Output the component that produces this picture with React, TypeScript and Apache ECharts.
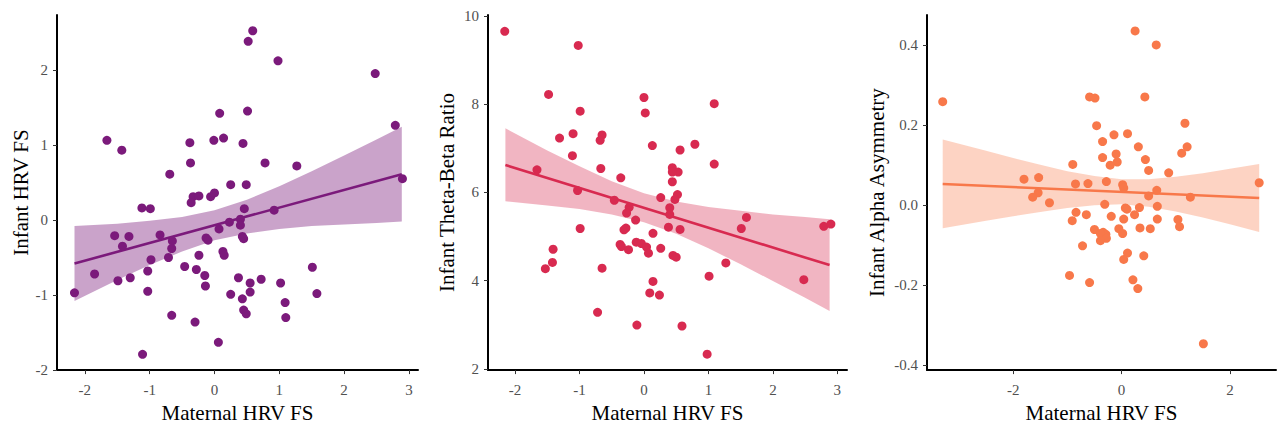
import React, { useEffect, useRef } from "react";
import * as echarts from "echarts";

// ---------- Panel 1: Infant HRV FS ----------
const hrvX = [0.59, 0.52, 0.98, 2.48, 0.08, 0.51, 2.79, -1.66, -1.43, -0.38, -0.01, 0.14, 0.44, -0.37, 0.78, 1.27, -0.69, 0.25, 0.49, 2.9, -0.33, -0.24, -0.06, 0.0, -0.36, -1.12, -0.99, 0.46, 0.92, 0.07, 0.23, 0.4, 0.4, 0.43, 0.45, -1.54, -1.32, -1.42, -0.84, -0.65, -0.66, -0.13, -0.1, 0.13, 0.15, -0.24, -0.71, -0.98, -1.85, -1.03, -0.46, -0.28, -0.15, -1.49, -1.3, 0.37, 0.55, 0.72, 1.02, 1.51, -0.14, -2.16, -1.03, 0.25, 0.55, 1.58, 0.43, 1.09, 0.45, 0.49, 1.1, -0.66, -0.3, 0.06, -1.11];
const hrvY = [2.52, 2.38, 2.12, 1.95, 1.42, 1.45, 1.26, 1.06, 0.93, 1.03, 1.06, 1.09, 1.02, 0.76, 0.76, 0.72, 0.61, 0.47, 0.47, 0.55, 0.31, 0.32, 0.31, 0.36, 0.23, 0.16, 0.15, 0.15, 0.13, -0.12, -0.03, 0.01, -0.07, -0.22, -0.25, -0.21, -0.22, -0.35, -0.2, -0.28, -0.38, -0.24, -0.27, -0.42, -0.47, -0.47, -0.5, -0.53, -0.72, -0.68, -0.62, -0.66, -0.74, -0.81, -0.77, -0.77, -0.84, -0.79, -0.84, -0.63, -0.88, -0.97, -0.95, -0.99, -0.96, -0.98, -1.05, -1.1, -1.2, -1.25, -1.3, -1.27, -1.36, -1.63, -1.79];
const hrvFitX = [-2.16, 2.89];
const hrvFitY = [-0.58, 0.61];
const hrvBandX = [-2.16, -1.5, -1.0, -0.5, 0, 0.5, 1.0, 1.5, 2.0, 2.5, 2.89];
const hrvBandLo = [-1.08, -0.8, -0.6, -0.42, -0.27, -0.18, -0.12, -0.08, -0.06, -0.04, -0.02];
const hrvBandHi = [-0.08, -0.05, -0.01, 0.04, 0.13, 0.27, 0.45, 0.65, 0.86, 1.07, 1.24];

// ---------- Panel 2: Infant Theta-Beta Ratio ----------
const tbrX = [-2.16, -1.02, -1.48, 0.0, 1.09, -0.99, 0.02, -1.31, -1.1, -0.65, -0.68, 0.13, 0.79, 0.56, -1.11, 1.09, -1.66, -0.67, 0.44, 0.53, 0.44, 0.44, -0.36, -1.03, -0.46, 0.26, 0.52, 0.48, -0.23, -0.27, 0.4, 0.4, -0.13, -0.31, -0.28, -0.99, 0.38, 0.56, 0.14, 1.51, 1.59, 2.79, 2.9, -1.41, -0.37, -0.35, -0.24, -0.12, -0.04, 0.04, 0.07, 0.26, 0.45, 0.5, -1.42, -1.53, -0.65, 1.27, 1.01, 2.48, 0.14, 0.09, 0.24, -0.72, -0.11, 0.59, 0.98];
const tbrY = [9.65, 9.33, 8.22, 8.15, 8.01, 7.84, 7.8, 7.23, 7.33, 7.3, 7.18, 7.06, 7.09, 6.96, 6.83, 6.64, 6.51, 6.54, 6.56, 6.46, 6.46, 6.24, 6.33, 6.04, 5.82, 5.88, 5.95, 5.84, 5.66, 5.53, 5.65, 5.5, 5.37, 5.15, 5.19, 5.18, 5.21, 5.16, 5.07, 5.18, 5.43, 5.23, 5.28, 4.71, 4.82, 4.77, 4.7, 4.87, 4.84, 4.76, 4.62, 4.73, 4.57, 4.53, 4.41, 4.27, 4.28, 4.4, 4.1, 4.02, 3.98, 3.72, 3.67, 3.28, 2.99, 2.97, 2.33];
const tbrFitX = [-2.15, 2.88];
const tbrFitY = [6.62, 4.35];
const tbrBandX = [-2.15, -1.5, -1.0, -0.5, 0, 0.5, 1.0, 1.5, 2.0, 2.5, 2.88];
const tbrBandLo = [5.8, 5.7, 5.62, 5.5, 5.32, 5.06, 4.73, 4.37, 3.99, 3.61, 3.31];
const tbrBandHi = [7.45, 6.95, 6.59, 6.25, 5.98, 5.79, 5.67, 5.58, 5.5, 5.44, 5.39];

// ---------- Panel 3: Infant Alpha Asymmetry ----------
const asymX = [0.25, 0.64, -3.3, -0.59, -0.49, 0.43, -0.46, 1.17, -0.14, 0.11, -0.35, 0.31, 1.21, -0.1, 1.11, -0.35, 0.44, -0.08, -0.21, -0.9, 0.5, 0.87, -1.8, -1.53, -0.28, -0.85, -0.62, 0.02, 0.04, 2.54, -1.54, -1.64, 0.65, 0.5, 1.27, -1.33, -0.31, 0.07, 0.1, 0.33, 0.66, -0.84, -0.65, -0.19, 0.24, -0.91, 0.04, 0.66, 1.04, 1.07, 0.34, 0.53, -0.5, -0.05, 0.02, -0.34, -0.29, -0.39, -0.28, -0.39, -0.72, 0.11, 0.41, 0.04, -0.96, -0.59, 0.21, 0.3, 1.51];
const asymY = [0.436, 0.401, 0.259, 0.271, 0.268, 0.271, 0.199, 0.205, 0.176, 0.179, 0.159, 0.146, 0.146, 0.128, 0.13, 0.119, 0.114, 0.108, 0.1, 0.102, 0.087, 0.081, 0.065, 0.069, 0.059, 0.053, 0.054, 0.051, 0.043, 0.056, 0.031, 0.02, 0.037, 0.023, 0.02, 0.006, 0.002, -0.007, -0.01, -0.006, -0.003, -0.018, -0.024, -0.028, -0.024, -0.039, -0.035, -0.035, -0.036, -0.054, -0.057, -0.059, -0.061, -0.059, -0.071, -0.068, -0.073, -0.071, -0.083, -0.089, -0.102, -0.12, -0.127, -0.136, -0.176, -0.194, -0.187, -0.209, -0.347];
const asymFitX = [-3.3, 2.54];
const asymFitY = [0.053, 0.018];
const asymBandX = [-3.3, -2.5, -2.0, -1.5, -1.0, -0.5, 0, 0.5, 1.0, 1.5, 2.0, 2.54];
const asymBandLo = [-0.058, -0.039, -0.028, -0.017, -0.007, 0.0, 0.002, -0.004, -0.016, -0.031, -0.048, -0.067];
const asymBandHi = [0.164, 0.136, 0.118, 0.101, 0.085, 0.073, 0.065, 0.065, 0.071, 0.08, 0.091, 0.103];

// ---------- Axes ----------
const xTicksWide = [-2, -1, 0, 1, 2, 3];
const xTicksNarrow = [-2, 0, 2];
const yTicksHrv = [-2, -1, 0, 1, 2];
const yTicksTbr = [2, 4, 6, 8, 10];
const yTicksAsym = [-0.4, -0.2, 0, 0.2, 0.4];

const xName = "Maternal HRV FS";
const yNames = ["Infant HRV FS", "Infant Theta-Beta Ratio", "Infant Alpha Asymmetry"];

const COLORS = ["#7b1a7b", "#d82a50", "#f8784a"];
const BANDS = ["rgba(123,26,123,0.4)", "rgba(216,42,80,0.35)", "rgba(248,120,74,0.33)"];

const FONT = "'Liberation Serif', 'Times New Roman', serif";

const zip = (xs: number[], ys: number[]) => xs.map((x, i) => [x, ys[i]]);

function axisBase(ticks: number[], margin: number, fmt?: (v: number) => string) {
  return {
    type: "value",
    splitLine: { show: false },
    axisLine: { show: true, onZero: false, lineStyle: { color: "#000", width: 2 } },
    axisTick: { show: true, length: 4, customValues: ticks, lineStyle: { color: "#333", width: 1 } },
    axisLabel: {
      customValues: ticks,
      color: "#505050",
      fontSize: 15,
      fontFamily: FONT,
      margin,
      formatter: fmt ? (v: number) => fmt(v) : (v: number) => String(v),
    },
    nameLocation: "middle",
    nameTextStyle: { color: "#000", fontSize: 21, fontFamily: FONT },
  };
}

function bandSeries(idx: number, xs: number[], lo: number[], hi: number[], fill: string) {
  return {
    type: "custom",
    xAxisIndex: idx,
    yAxisIndex: idx,
    silent: true,
    z: 1,
    data: [[xs[0], lo[0]]],
    renderItem: (_params: any, api: any) => {
      const pts: number[][] = [];
      for (let i = 0; i < xs.length; i++) pts.push(api.coord([xs[i], hi[i]]));
      for (let i = xs.length - 1; i >= 0; i--) pts.push(api.coord([xs[i], lo[i]]));
      return { type: "polygon", shape: { points: pts, smooth: 0 }, style: { fill } };
    },
  };
}

function fitSeries(idx: number, xs: number[], ys: number[], color: string) {
  return {
    type: "line",
    xAxisIndex: idx,
    yAxisIndex: idx,
    data: zip(xs, ys),
    showSymbol: false,
    symbol: "none",
    silent: true,
    z: 2,
    lineStyle: { color, width: 2.6 },
  };
}

function pointSeries(idx: number, xs: number[], ys: number[], color: string) {
  return {
    type: "scatter",
    xAxisIndex: idx,
    yAxisIndex: idx,
    data: zip(xs, ys),
    symbolSize: 9,
    z: 3,
    itemStyle: { color, opacity: 1 },
  };
}

export default function App() {
  const ref = useRef<HTMLDivElement>(null);
  useEffect(() => {
    if (!ref.current) return;
    const chart = echarts.init(ref.current, undefined, { renderer: "svg" });
    const option: any = {
      animation: false,
      backgroundColor: "#fff",
      grid: [
        { left: 57, top: 15, width: 361, height: 364 },
        { left: 488, top: 15, width: 359, height: 363 },
        { left: 927, top: 15, width: 349, height: 365 },
      ],
      xAxis: [
        { ...axisBase(xTicksWide, 12), gridIndex: 0, min: -2.43, max: 3.14, name: xName, nameGap: 26 },
        { ...axisBase(xTicksWide, 12), gridIndex: 1, min: -2.42, max: 3.15, name: xName, nameGap: 26 },
        { ...axisBase(xTicksNarrow, 12), gridIndex: 2, min: -3.59, max: 2.85, name: xName, nameGap: 26 },
      ],
      yAxis: [
        { ...axisBase(yTicksHrv, 9), gridIndex: 0, min: -2.0, max: 2.73, name: yNames[0], nameGap: 25 },
        { ...axisBase(yTicksTbr, 9), gridIndex: 1, min: 1.97, max: 10.02, name: yNames[1], nameGap: 31 },
        {
          ...axisBase(yTicksAsym, 9, (v) => v.toFixed(1)),
          gridIndex: 2,
          min: -0.413,
          max: 0.476,
          name: yNames[2],
          nameGap: 40,
        },
      ],
      series: [
        bandSeries(0, hrvBandX, hrvBandLo, hrvBandHi, BANDS[0]),
        fitSeries(0, hrvFitX, hrvFitY, COLORS[0]),
        pointSeries(0, hrvX, hrvY, COLORS[0]),
        bandSeries(1, tbrBandX, tbrBandLo, tbrBandHi, BANDS[1]),
        fitSeries(1, tbrFitX, tbrFitY, COLORS[1]),
        pointSeries(1, tbrX, tbrY, COLORS[1]),
        bandSeries(2, asymBandX, asymBandLo, asymBandHi, BANDS[2]),
        fitSeries(2, asymFitX, asymFitY, COLORS[2]),
        pointSeries(2, asymX, asymY, COLORS[2]),
      ],
    };
    chart.setOption(option);
    return () => chart.dispose();
  }, []);
  return (
    <div
      ref={ref}
      style={{ position: "fixed", left: 0, top: 0, width: 1282, height: 428, background: "#fff" }}
    />
  );
}
